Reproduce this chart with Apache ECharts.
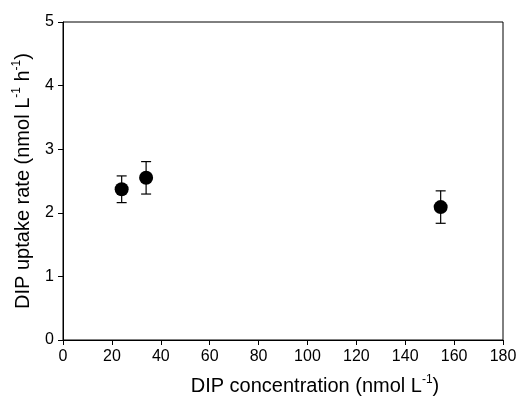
<!DOCTYPE html>
<html>
<head>
<meta charset="utf-8">
<script src="https://cdn.jsdelivr.net/npm/echarts@6/dist/echarts.min.js"></script>
<style>
  html, body { margin: 0; padding: 0; background: #fff; }
  #chart { width: 523px; height: 398px; }
</style>
</head>
<body>
<div id="chart"></div>
<script>
// DIP concentration (nmol L-1)
const concentration = [24, 34, 154.5]
// DIP uptake rate (nmol L-1 h-1)
const uptakeRate = [2.37, 2.55, 2.09]
const uptakeErr = [0.21, 0.255, 0.255]

const FONT = '"Liberation Sans", Arial, sans-serif'

const chart = echarts.init(document.getElementById('chart'))

const points = concentration.map((x, i) => [x, uptakeRate[i]])
const bars = concentration.map((x, i) => [x, uptakeRate[i] - uptakeErr[i], uptakeRate[i] + uptakeErr[i]])

// superscript styling for the axis names
const nameRich = {
  n: { fontSize: 20, fontFamily: FONT, color: '#000', lineHeight: 24 },
  s: { fontSize: 12, fontFamily: FONT, color: '#000', lineHeight: 24, verticalAlign: 'top', padding: [0, 0, 7, 0] }
}

chart.setOption({
  animation: false,
  backgroundColor: '#fff',
  grid: {
    left: 63, right: 20, top: 22, bottom: 58,
    outerBoundsMode: 'none',
    show: true, borderColor: '#000', borderWidth: 1
  },
  xAxis: {
    type: 'value',
    min: 0,
    max: 180,
    interval: 20,
    name: '{n|DIP concentration (nmol L}{s|-1}{n|)}',
    nameLocation: 'middle',
    nameGap: 34,
    // title sits right of the plot centre in the original
    nameTextStyle: { rich: nameRich, padding: [0, 0, 0, 64] },
    axisLine: { show: true, lineStyle: { color: '#000', width: 1 } },
    axisTick: { show: true, inside: false, length: 5, lineStyle: { color: '#000' } },
    axisLabel: { color: '#000', fontSize: 16, fontFamily: FONT, margin: 9 },
    splitLine: { show: false }
  },
  yAxis: {
    type: 'value',
    min: 0,
    max: 5,
    interval: 1,
    name: '{n|DIP uptake rate (nmol L}{s|-1}{n| h}{s|-1}{n|)}',
    nameLocation: 'middle',
    nameGap: 28,
    nameTextStyle: { rich: nameRich },
    axisLine: { show: true, lineStyle: { color: '#000', width: 1 } },
    axisTick: { show: true, inside: false, length: 5, lineStyle: { color: '#000' } },
    axisLabel: { color: '#000', fontSize: 16, fontFamily: FONT, margin: 9 },
    splitLine: { show: false }
  },
  series: [
    {
      type: 'custom',
      data: bars,
      z: 1,
      renderItem: (params, api) => {
        const x = api.value(0)
        const lo = api.coord([x, api.value(1)])
        const hi = api.coord([x, api.value(2)])
        const cap = 5
        const style = { stroke: '#000', lineWidth: 1.2 }
        return {
          type: 'group',
          children: [
            { type: 'line', shape: { x1: lo[0], y1: lo[1], x2: hi[0], y2: hi[1] }, style },
            { type: 'line', shape: { x1: lo[0] - cap, y1: lo[1], x2: lo[0] + cap, y2: lo[1] }, style },
            { type: 'line', shape: { x1: hi[0] - cap, y1: hi[1], x2: hi[0] + cap, y2: hi[1] }, style }
          ]
        }
      }
    },
    {
      type: 'scatter',
      data: points,
      z: 2,
      symbol: 'circle',
      symbolSize: 14,
      itemStyle: { color: '#000', opacity: 1 }
    }
  ]
})
</script>
</body>
</html>
